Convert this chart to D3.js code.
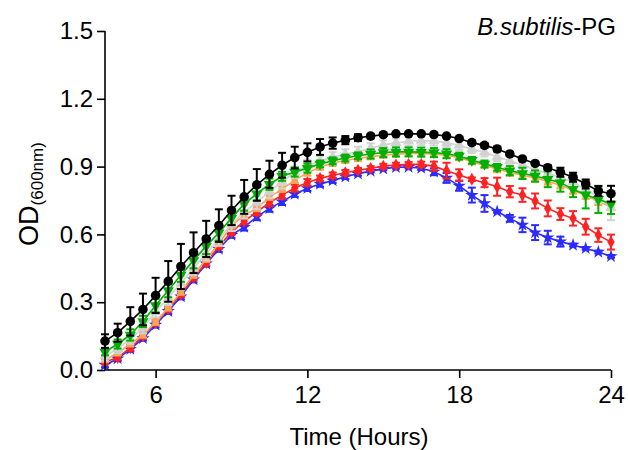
<!DOCTYPE html>
<html>
<head>
<meta charset="utf-8">
<script src="https://cdn.jsdelivr.net/npm/d3@7/dist/d3.min.js"></script>
<style>
  html, body { margin: 0; padding: 0; background: #fff; }
  svg text { font-family: "Liberation Sans", Arial, Helvetica, sans-serif; fill: #000; }
</style>
</head>
<body>
<svg id="chart" width="628" height="450"></svg>
<script>
// ---- data ----
const hours = [4,4.5,5,5.5,6,6.5,7,7.5,8,8.5,9,9.5,10,10.5,11,11.5,12,12.5,13,13.5,14,14.5,15,15.5,16,16.5,17,17.5,18,18.5,19,19.5,20,20.5,21,21.5,22,22.5,23,23.5,24];

const odBlack = [0.128,0.165,0.215,0.268,0.330,0.392,0.458,0.519,0.580,0.639,0.706,0.766,0.819,0.866,0.906,0.940,0.963,0.987,1.004,1.017,1.028,1.035,1.041,1.045,1.045,1.045,1.042,1.035,1.024,1.006,0.994,0.978,0.956,0.934,0.914,0.895,0.875,0.853,0.823,0.792,0.780];
const errBlack = [0.03,0.04,0.063,0.07,0.078,0.09,0.1,0.09,0.08,0.072,0.065,0.075,0.07,0.06,0.055,0.048,0.04,0.035,0.025,0.018,0.015,0.01,0.005,0.005,0.005,0.005,0.005,0.005,0.005,0.008,0.01,0.01,0.008,0.006,0.006,0.01,0.02,0.02,0.02,0.022,0.035];

const odGray = [0.062,0.094,0.136,0.187,0.258,0.318,0.385,0.450,0.515,0.580,0.645,0.700,0.742,0.790,0.833,0.875,0.905,0.925,0.942,0.955,0.966,0.981,0.996,1.005,1.012,1.015,1.013,1.006,0.994,0.978,0.963,0.943,0.926,0.907,0.886,0.870,0.852,0.832,0.798,0.768,0.718];
const errGray = [0.02,0.02,0.02,0.025,0.025,0.03,0.03,0.03,0.03,0.03,0.03,0.03,0.03,0.03,0.03,0.025,0.025,0.022,0.022,0.022,0.022,0.022,0.02,0.02,0.02,0.02,0.02,0.02,0.02,0.018,0.018,0.018,0.02,0.02,0.02,0.02,0.02,0.025,0.03,0.03,0.055];

const odGreen = [0.080,0.115,0.155,0.215,0.285,0.352,0.420,0.485,0.548,0.607,0.672,0.735,0.780,0.822,0.857,0.876,0.893,0.912,0.926,0.938,0.948,0.956,0.962,0.965,0.965,0.964,0.962,0.957,0.947,0.928,0.912,0.897,0.882,0.870,0.858,0.844,0.829,0.800,0.775,0.755,0.735];
const errGreen = [0.015,0.02,0.025,0.025,0.03,0.03,0.03,0.035,0.035,0.035,0.03,0.03,0.03,0.025,0.02,0.02,0.02,0.015,0.015,0.015,0.015,0.02,0.02,0.02,0.02,0.02,0.02,0.02,0.015,0.015,0.015,0.015,0.02,0.025,0.025,0.035,0.04,0.035,0.06,0.06,0.045];

const odOrange = [0.045,0.075,0.115,0.155,0.212,0.275,0.345,0.420,0.490,0.560,0.638,0.686,0.715,0.765,0.800,0.840,0.872,0.898,0.915,0.928,0.936,0.944,0.950,0.955,0.958,0.958,0.955,0.950,0.940,0.922,0.905,0.890,0.874,0.862,0.850,0.835,0.818,0.795,0.772,0.745,0.722];
const errOrange = [0.01,0.01,0.01,0.012,0.012,0.012,0.012,0.012,0.012,0.012,0.012,0.012,0.012,0.012,0.012,0.012,0.012,0.012,0.012,0.012,0.012,0.012,0.01,0.01,0.01,0.01,0.01,0.012,0.012,0.012,0.012,0.015,0.015,0.015,0.015,0.015,0.015,0.015,0.015,0.015,0.015];

const odRed = [0.035,0.055,0.098,0.150,0.210,0.270,0.335,0.410,0.475,0.548,0.610,0.658,0.700,0.740,0.774,0.805,0.830,0.848,0.862,0.873,0.884,0.892,0.902,0.907,0.910,0.910,0.902,0.882,0.863,0.844,0.829,0.811,0.789,0.774,0.748,0.715,0.690,0.671,0.634,0.597,0.566];
const errRed = [0.01,0.01,0.012,0.012,0.012,0.012,0.012,0.012,0.012,0.012,0.012,0.012,0.015,0.015,0.015,0.015,0.015,0.012,0.012,0.012,0.01,0.01,0.01,0.01,0.01,0.012,0.02,0.035,0.025,0.008,0.02,0.04,0.025,0.03,0.033,0.035,0.026,0.032,0.035,0.03,0.033];

const odBlue = [0.022,0.050,0.092,0.140,0.200,0.260,0.325,0.400,0.470,0.535,0.597,0.632,0.678,0.715,0.745,0.778,0.804,0.823,0.838,0.855,0.868,0.880,0.890,0.897,0.898,0.893,0.877,0.850,0.815,0.774,0.737,0.701,0.671,0.642,0.608,0.586,0.568,0.553,0.538,0.522,0.503];
const errBlue = [0.01,0.01,0.01,0.01,0.012,0.012,0.012,0.012,0.012,0.012,0.012,0.015,0.015,0.015,0.015,0.012,0.012,0.012,0.01,0.01,0.008,0.006,0.006,0.006,0.006,0.008,0.015,0.022,0.022,0.033,0.037,0.006,0.015,0.032,0.033,0.03,0.022,0.006,0.006,0.006,0.006];

const xTicks = [6, 12, 18, 24];
const yTicks = [0.0, 0.3, 0.6, 0.9, 1.2, 1.5];

// ---- layout ----
const svg = d3.select("#chart");
const mLeft = 105, mRight = 611, mTop = 31, mBottom = 370;
const x = d3.scaleLinear().domain([4, 24]).range([mLeft, mRight]);
const y = d3.scaleLinear().domain([0, 1.5]).range([mBottom, mTop]);

const series = [
  { name: "blue",   mean: odBlue,   err: errBlue,   color: "#2b2bff", sym: d3.symbolStar,     size: 55, rot: 0 },
  { name: "red",    mean: odRed,    err: errRed,    color: "#ff2222", sym: d3.symbolDiamond,  size: 48, rot: 0 },
  { name: "orange", mean: odOrange, err: errOrange, color: "#f7a552", sym: d3.symbolSquare,   size: 42, rot: 0 },
  { name: "gray",   mean: odGray,   err: errGray,   color: "#d2d2d2", sym: d3.symbolTriangle, size: 55, rot: 0 },
  { name: "green",  mean: odGreen,  err: errGreen,  color: "#00b000", sym: d3.symbolTriangle, size: 55, rot: 180 },
  { name: "black",  mean: odBlack,  err: errBlack,  color: "#000000", sym: d3.symbolCircle,   size: 72, rot: 0 }
];

const plot = svg.append("g");
const line = d3.line().x((d, i) => x(hours[i])).y(d => y(d));
const capW = 4;

series.forEach(s => {
  const g = plot.append("g").attr("class", "series-" + s.name);
  const eb = g.append("g").attr("stroke", s.color).attr("stroke-width", 2).attr("fill", "none");
  hours.forEach((h, i) => {
    const cx = x(h), y1 = y(s.mean[i] + s.err[i]), y2 = y(s.mean[i] - s.err[i]);
    eb.append("line").attr("x1", cx).attr("x2", cx).attr("y1", y1).attr("y2", y2);
    eb.append("line").attr("x1", cx - capW).attr("x2", cx + capW).attr("y1", y1).attr("y2", y1);
    eb.append("line").attr("x1", cx - capW).attr("x2", cx + capW).attr("y1", y2).attr("y2", y2);
  });
  g.append("path").datum(s.mean)
    .attr("d", line)
    .attr("fill", "none")
    .attr("stroke", s.color)
    .attr("stroke-width", 1.6);
  const sym = d3.symbol().type(s.sym).size(s.size);
  g.selectAll("path.pt").data(s.mean).enter().append("path")
    .attr("class", "pt")
    .attr("d", sym)
    .attr("fill", s.color)
    .attr("transform", (d, i) => `translate(${x(hours[i])},${y(d)}) rotate(${s.rot})`);
});

// ---- axes ----
const xAxis = d3.axisBottom(x).tickValues(xTicks).tickSize(8).tickPadding(8).tickFormat(d3.format("d"));
const yAxis = d3.axisLeft(y).tickValues(yTicks).tickSize(8).tickPadding(4).tickFormat(d3.format(".1f"));

const gx = svg.append("g").attr("transform", `translate(0,${mBottom})`).call(xAxis);
const gy = svg.append("g").attr("transform", `translate(${mLeft},0)`).call(yAxis);
[gx, gy].forEach(g => {
  g.select(".domain").attr("stroke", "#000").attr("stroke-width", 1.6);
  g.selectAll(".tick line").attr("stroke", "#000").attr("stroke-width", 1.6);
  g.selectAll(".tick text").attr("font-size", 24).attr("font-family", '"Liberation Sans", Arial, sans-serif').attr("fill", "#000");
});
gx.select(".domain").attr("d", `M${mLeft},0H${mRight}`);
gy.select(".domain").attr("d", `M0,${mBottom}V${mTop}`);

svg.append("text")
  .attr("x", 359).attr("y", 445)
  .attr("text-anchor", "middle").attr("font-size", 24)
  .text("Time (Hours)");

const yl = svg.append("text")
  .attr("transform", `translate(38,194) rotate(-90)`)
  .attr("text-anchor", "middle").attr("font-size", 27);
yl.append("tspan").text("OD");
yl.append("tspan").attr("font-size", 17).attr("dy", 5).text("(600nm)");

const t = svg.append("text")
  .attr("x", 616).attr("y", 35)
  .attr("text-anchor", "end").attr("font-size", 24);
t.append("tspan").attr("font-style", "italic").text("B.subtilis");
t.append("tspan").text("-PG");
</script>
</body>
</html>
